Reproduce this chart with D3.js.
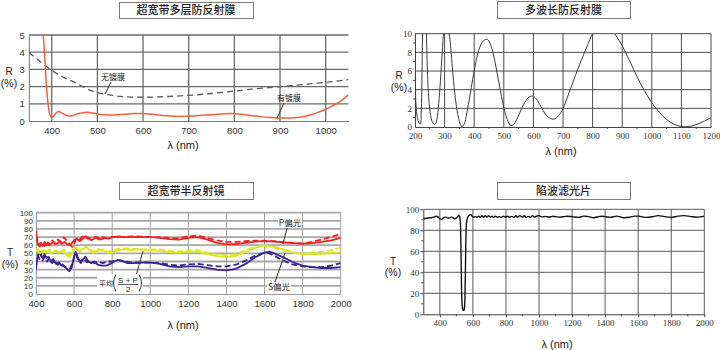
<!DOCTYPE html>
<html><head><meta charset="utf-8">
<script src="https://cdn.jsdelivr.net/npm/d3@7"></script>
<style>
body{margin:0;background:#fff}
svg{display:block}
</style></head><body>
<svg id="c" width="720" height="350"></svg>
<script>
// ---------- 超宽带多层防反射膜 ----------
const arNm        = [381,385,388,392,396,400,405,410,415,420,428,436,444,452,462,472,482,492,502,515,530,545,560,580,600,615,630,650,670,690,710,730,750,770,790,805,820,840,860,880,895,910,925,940,955,970,985,1000,1015,1030,1050];
const arCoated    = [5.2,3.6,2.2,1.0,0.35,0.2,0.3,0.48,0.55,0.5,0.38,0.3,0.3,0.38,0.45,0.5,0.5,0.45,0.4,0.36,0.35,0.37,0.39,0.43,0.44,0.41,0.36,0.3,0.27,0.27,0.29,0.33,0.37,0.41,0.43,0.42,0.38,0.31,0.24,0.2,0.18,0.17,0.18,0.21,0.28,0.38,0.52,0.68,0.88,1.1,1.52];
const bareNm      = [350,375,400,425,450,475,500,525,550,575,600,650,700,750,800,850,900,950,1000,1050];
const bareR       = [3.98,3.45,2.95,2.55,2.25,1.9,1.65,1.52,1.43,1.39,1.38,1.42,1.49,1.6,1.74,1.88,2.0,2.12,2.25,2.4];

// ---------- 多波长防反射膜 ----------
const mwNm = [200,203,206,210,214,218,221,224,226,230,234,238,242,248,255,262,268,274,280,286,292,297,302,306,312,318,322,330,340,350,358,366,375,390,400,415,430,444,458,470,485,500,512,522,530,540,555,570,585,597,610,625,640,655,670,685,700,715,730,750,770,790,800,820,845,870,885,900,925,950,975,1000,1025,1050,1075,1100,1125,1150,1175,1200];
const mwR  = [6.0,2.6,1.4,0.7,0.4,0.3,1.5,6.5,10.5,13.5,13.0,10.5,6.0,2.5,0.9,0.35,0.3,0.8,2.5,5.0,8.0,10.2,11.0,11.2,10.6,9.4,8.0,5.0,2.2,0.6,0.05,0.3,1.5,4.2,6.0,8.2,9.2,9.4,8.6,7.0,4.5,2.1,0.8,0.2,0.2,0.6,1.6,2.6,3.2,3.3,3.0,2.2,1.4,0.95,0.85,1.2,2.0,3.2,4.5,6.2,7.8,9.3,10.0,10.9,11.2,10.2,9.5,8.7,7.1,5.4,3.9,2.6,1.6,0.8,0.3,0.05,0.05,0.25,0.6,1.0];

// ---------- 超宽带半反射镜 ----------
const pSolidNm = [400,404,408,415,425,435,445,455,465,475,490,505,520,535,550,565,580,590,600,615,630,645,660,675,690,705,720,740,760,780,800,830,860,900,950,1000,1050,1100,1150,1200,1250,1300,1350,1400,1450,1500,1550,1600,1650,1700,1750,1800,1850,1900,1950,2000];
const pSolid   = [78,70,63,60,63,59,64,60,63,61,64,61,64,62,64,61,60,63,66,68,65,68,71,69,66,68,70,67,69,68,70,70.5,70,70,70,70,69,67.5,67,69,70,67,63,61,61.5,63,64.5,65,64.5,63.5,62.5,62,62.5,64,66,69];
const pDashNm  = [400,408,420,432,445,458,470,485,500,515,530,545,560,575,590,600,612,625,640,655,670,690,710,730,750,775,800,830,860,900,950,1000,1050,1100,1150,1200,1250,1300,1350,1400,1450,1500,1550,1600,1650,1700,1750,1800,1850,1900,1950,2000];
const pDash    = [72,62,58,63,59,65,60,66,62,67,64,70,66,62,58,62,68,66,70,72,68,69,70,67,70,68,70,71,70,71,70.5,70,70,69,68.5,71,72,69,66,64,64,65,65.5,65.5,65,63.5,63,62,64,67,70,74];
const avgSolidNm = [400,410,420,435,450,465,480,500,520,540,560,575,590,600,615,630,650,665,680,700,720,745,770,800,830,860,900,950,1000,1050,1100,1150,1200,1250,1300,1350,1400,1450,1500,1550,1600,1650,1700,1750,1800,1850,1900,1950,2000];
const avgSolid   = [56,52,50,53,51,54,50,53,51,53,48,45,50,57,55,52,56,58,54,50,53,55,51,51,54,55,54,55,54,53,51.5,51,52,52,49,46.5,45.5,47,52,57,59.5,58,55,51,49,49,49.5,50.5,51];
const avgDashNm  = [400,412,425,440,455,470,488,505,525,545,560,575,590,605,620,640,660,680,700,725,750,775,800,830,860,900,950,1000,1050,1100,1150,1200,1250,1300,1350,1400,1450,1500,1550,1600,1650,1700,1750,1800,1850,1900,1950,2000];
const avgDash    = [52,55,50,54,50,55,52,54,50,55,52,47,52,60,55,53,58,56,52,56,53,52,53,56,56,56,55,55,55,53,52.5,53.5,54,51,48.5,47.5,49,54,58,59,57,53.5,51,50,50.5,52,54,57];
const sSolidNm = [400,405,412,420,428,436,445,455,465,478,490,505,520,535,550,565,575,588,600,608,618,630,645,660,675,690,705,725,745,770,790,810,830,850,880,920,960,1000,1050,1100,1150,1200,1250,1300,1350,1400,1450,1500,1550,1600,1625,1650,1700,1750,1800,1850,1900,1950,2000];
const sSolid   = [30,42,48,52,46,44,49,44,46,40,43,37,39,35,34,30,28,33,45,52,46,40,42,46,40,38,40,36,35,35,37,40,42,41,38,38,38.5,38.5,37,34,33,34,34,32,30,29,31,37,45,51,52,50,45,39,35,33,32,32,33];
const sDashNm  = [400,410,418,426,435,445,458,470,485,500,515,530,548,562,578,592,604,612,620,635,650,668,685,705,725,750,775,800,830,860,900,950,1000,1050,1100,1150,1200,1250,1300,1350,1400,1450,1500,1550,1600,1625,1650,1700,1750,1800,1850,1900,1950,2000];
const sDash    = [36,48,43,50,41,46,40,44,38,42,36,39,34,32,31,38,50,48,42,38,44,39,41,38,40,38,40,40,42,40,39,39,38.5,38,36,35,36.5,37,35.5,34,34,36,41,47,51,50,47,41,36,34,33,33,35,38];

// ---------- 陷波滤光片 ----------
const notchNm = [300,310,320,335,350,365,380,390,400,410,420,432,445,455,468,480,490,500,508,515,520,524,527,530,533,537,541,546,550,553,556,559,562,566,572,580,588,595,605,615,625,635,645,655,665,675,685,695,705,715,725,735,748,760,772,785,798,810,822,835,848,860,872,885,898,910,922,935,948,960,972,985,1000,1020,1040,1060,1080,1100,1130,1160,1200,1240,1270,1300,1330,1370,1400,1430,1470,1510,1550,1580,1610,1650,1690,1720,1760,1800,1840,1880,1920,1960,2000];
const notchT  = [91.5,91,91.5,92,92,92.5,93.5,92.5,91,90.5,91.5,92.5,92,91.5,92.5,92,91,91.5,93,94.5,93,88,70,40,15,6,4,4,8,25,55,80,88,91,93.5,94.5,95,93.5,92.5,93,92.5,93.5,92.3,93.8,92.3,94,92.5,94,92.5,93.5,92.3,93.5,92.5,93,92.3,93.5,92.5,93.5,92.5,93.3,92.3,93.8,92.5,94,92.5,93.8,92.5,93.3,92.3,94,92.5,93.5,93.8,92.8,93.3,92.5,93.3,93,92.5,93.3,93,92.3,93.5,93,92,93.3,93,92.3,93.5,92,92.5,93.5,93.3,92.3,93,94,93,92.3,93.5,94,93,92.5,93.5];

// ---------- tick labels ----------
const p1XTicks = [400,500,600,700,800,900,1000];
const p1YTicks = [0,1,2,3,4,5];
const p2XTicks = [200,300,400,500,600,700,800,900,1000,1100,1200];
const p2YTicks = [0,2,4,6,8,10];
const p3XTicks = [400,600,800,1000,1200,1400,1600,1800,2000];
const p3YTicks = [0,10,20,30,40,50,60,70,80,90,100];
const p4XTicks = [400,600,800,1000,1200,1400,1600,1800,2000];
const p4YTicks = [0,20,40,60,80,100];

const svg = d3.select("#c");
const SANS = "'Liberation Sans', Arial, sans-serif";
const SERIF = "'Liberation Serif', 'DejaVu Serif', serif";
const CJK = "'Noto Sans CJK SC', sans-serif";
const fmt = d3.format("d");
let clipId = 0;

function titleBox(x0, x1, y0, y1, text) {
  svg.append("rect").attr("x", x0 + 0.5).attr("y", y0 + 0.5)
    .attr("width", x1 - x0).attr("height", y1 - y0)
    .attr("fill", "#fff").attr("stroke", "#7a7a7a").attr("stroke-width", 1);
  svg.append("text").attr("x", (x0 + x1) / 2).attr("y", (y0 + y1) / 2 + 4)
    .attr("text-anchor", "middle").attr("font-family", CJK)
    .attr("font-size", 11).attr("font-weight", 500).attr("fill", "#222").text(text);
}

function axisTitle(x, y1, y2, letter, xl, yl) {
  svg.append("text").attr("x", x).attr("y", y1).attr("text-anchor", "middle")
    .attr("font-family", SANS).attr("font-size", 10).attr("fill", "#222").text(letter);
  svg.append("text").attr("x", x).attr("y", y2).attr("text-anchor", "middle")
    .attr("font-family", SANS).attr("font-size", 10.5).attr("fill", "#222").text("(%)");
  svg.append("text").attr("x", xl).attr("y", yl).attr("text-anchor", "middle")
    .attr("font-family", SANS).attr("font-size", 11).attr("fill", "#222").text("λ (nm)");
}

function panel(c) {
  const x = d3.scaleLinear().domain(c.xDomain).range(c.xRange);
  const y = d3.scaleLinear().domain(c.yDomain).range(c.yRange);
  const g = svg.append("g");
  const w = c.xRange[1] - c.xRange[0];
  const h = c.yRange[0] - c.yRange[1];

  // grid
  g.append("g").selectAll("line").data(c.hGrid).join("line")
    .attr("x1", c.xRange[0]).attr("x2", c.xRange[1])
    .attr("y1", d => y(d)).attr("y2", d => y(d))
    .attr("stroke", c.hColor).attr("stroke-width", c.hWidth);
  g.append("g").selectAll("line").data(c.vGrid).join("line")
    .attr("x1", d => x(d)).attr("x2", d => x(d))
    .attr("y1", c.yRange[0]).attr("y2", c.yRange[1])
    .attr("stroke", c.vColor).attr("stroke-width", c.vWidth);

  // axes with labels
  const ax = g.append("g").attr("transform", `translate(0,${c.yRange[0]})`)
    .call(d3.axisBottom(x).tickValues(c.xTicks).tickFormat(fmt).tickSize(c.tickLen).tickSizeOuter(0).tickPadding(c.xPad));
  const ay = g.append("g").attr("transform", `translate(${c.xRange[0]},0)`)
    .call(d3.axisLeft(y).tickValues(c.yTicks).tickFormat(fmt).tickSize(c.tickLen).tickSizeOuter(0).tickPadding(c.yPad));
  [[ax, c.fontSize], [ay, c.yFontSize || c.fontSize]].forEach(([a, fs]) => {
    a.select(".domain").attr("stroke", c.axisColor).attr("stroke-width", c.axisWidth);
    a.selectAll(".tick line").attr("stroke", c.axisColor);
    a.selectAll(".tick text").attr("font-family", c.font).attr("font-size", fs).attr("fill", "#333");
  });
  if (c.minorX) g.append("g").selectAll("line").data(c.minorX).join("line")
    .attr("x1", d => x(d)).attr("x2", d => x(d)).attr("y1", c.yRange[0]).attr("y2", c.yRange[0] + 2)
    .attr("stroke", c.axisColor);
  if (c.minorY) g.append("g").selectAll("line").data(c.minorY).join("line")
    .attr("y1", d => y(d)).attr("y2", d => y(d)).attr("x1", c.xRange[0]).attr("x2", c.xRange[0] - 2)
    .attr("stroke", c.axisColor);

  // clip for curves
  const id = "clip" + (clipId++);
  svg.append("clipPath").attr("id", id).append("rect")
    .attr("x", c.xRange[0]).attr("y", c.yRange[1]).attr("width", w).attr("height", h);
  const cg = g.append("g").attr("clip-path", `url(#${id})`);
  c.series.forEach(s => {
    const pts = s.nm.map((d, i) => [d, s.v[i]]);
    cg.append("path").datum(pts)
      .attr("d", d3.line().x(d => x(d[0])).y(d => y(d[1])).curve(s.curve || d3.curveMonotoneX))
      .attr("fill", "none").attr("stroke", s.color).attr("stroke-width", s.width)
      .attr("stroke-dasharray", s.dash || null).attr("stroke-linejoin", "round");
  });
  return {x, y};
}

// ---- panel 1 ----
titleBox(119, 253, 2, 18, "超宽带多层防反射膜");
panel({
  xDomain: [350, 1050], xRange: [28.9, 348.5], yDomain: [0, 5], yRange: [121, 35],
  hGrid: [1, 2, 3, 4, 5], vGrid: [400, 500, 600, 700, 800, 900, 1000],
  hColor: "#6a6a6a", hWidth: 1.3, vColor: "#6a6a6a", vWidth: 1.3,
  xTicks: p1XTicks, yTicks: p1YTicks, tickLen: 0, xPad: 6, yPad: 4,
  axisColor: "#777", axisWidth: 1, font: SANS, fontSize: 9.5,
  series: [
    {nm: bareNm, v: bareR, color: "#5a5a5a", width: 1.3, dash: "6,4"},
    {nm: arNm, v: arCoated, color: "#f2603c", width: 1.5, curve: d3.curveCatmullRom}
  ]
});
axisTitle(9, 75, 87, "R", 183, 149);

// ---- panel 2 ----
titleBox(497, 630, 1, 18, "多波长防反射膜");
panel({
  xDomain: [200, 1200], xRange: [415, 711], yDomain: [0, 10], yRange: [127, 33.7],
  hGrid: [2, 4, 6, 8, 10], vGrid: [300, 400, 500, 600, 700, 800, 900, 1000, 1100, 1200],
  hColor: "#4a4a4a", hWidth: 1, vColor: "#4a4a4a", vWidth: 1,
  xTicks: p2XTicks, yTicks: p2YTicks, tickLen: 0, xPad: 6, yPad: 3,
  axisColor: "#444", axisWidth: 1, font: SERIF, fontSize: 9,
  minorY: [1, 3, 5, 7, 9], minorX: [250, 350, 450, 550, 650, 750, 850, 950, 1050, 1150],
  series: [
    {nm: mwNm, v: mwR, color: "#3a3a3a", width: 1, curve: d3.curveCatmullRom}
  ]
});
axisTitle(399, 79, 91, "R", 561, 155);

// ---- panel 3 ----
titleBox(119, 253, 182, 199, "超宽带半反射镜");
panel({
  xDomain: [400, 2000], xRange: [36, 340.7], yDomain: [0, 100], yRange: [294, 212.7],
  hGrid: [10, 20, 30, 40, 50, 60, 70, 80, 90, 100], vGrid: [600, 800, 1000, 1200, 1400, 1600, 1800, 2000],
  hColor: "#a8a8a8", hWidth: 1.8, vColor: "#a0a0a0", vWidth: 1,
  xTicks: p3XTicks, yTicks: p3YTicks, tickLen: 0, xPad: 6, yPad: 3,
  axisColor: "#999", axisWidth: 1, font: SANS, fontSize: 9.5, yFontSize: 8,
  series: [
    {nm: sDashNm, v: sDash, color: "#3c2494", width: 1.8, dash: "6,3", curve: d3.curveLinear},
    {nm: sSolidNm, v: sSolid, color: "#3c2494", width: 1.8, curve: d3.curveLinear},
    {nm: avgDashNm, v: avgDash, color: "#dde81e", width: 1.8, dash: "6,3", curve: d3.curveLinear},
    {nm: avgSolidNm, v: avgSolid, color: "#dde81e", width: 1.8, curve: d3.curveLinear},
    {nm: pDashNm, v: pDash, color: "#f51e1e", width: 1.8, dash: "6,3", curve: d3.curveLinear},
    {nm: pSolidNm, v: pSolid, color: "#f51e1e", width: 1.8, curve: d3.curveLinear}
  ]
});
axisTitle(10, 256, 268, "T", 183, 329);

// ---- panel 4 ----
titleBox(497, 630, 182, 199, "陷波滤光片");
panel({
  xDomain: [300, 2000], xRange: [423.3, 704.3], yDomain: [0, 100], yRange: [314.3, 209.3],
  hGrid: [20, 40, 60, 80, 100], vGrid: [400, 600, 800, 1000, 1200, 1400, 1600, 1800, 2000],
  hColor: "#5a5a5a", hWidth: 1, vColor: "#5a5a5a", vWidth: 1,
  xTicks: p4XTicks, yTicks: p4YTicks, tickLen: 3, xPad: 2, yPad: 1,
  axisColor: "#444", axisWidth: 1, font: SERIF, fontSize: 9,
  minorY: [10, 30, 50, 70, 90], minorX: [500, 700, 900, 1100, 1300, 1500, 1700, 1900],
  series: [
    {nm: notchNm, v: notchT, color: "#111", width: 1.4, curve: d3.curveCatmullRom}
  ]
});
axisTitle(393, 265, 276, "T", 557, 348);

// ---- callouts ----
function note(x, y, text, size, lx1, ly1, lx2, ly2) {
  svg.append("line").attr("x1", lx1).attr("y1", ly1).attr("x2", lx2).attr("y2", ly2)
    .attr("stroke", "#333").attr("stroke-width", 1);
  svg.append("text").attr("x", x).attr("y", y).attr("text-anchor", "middle")
    .attr("font-family", CJK).attr("font-size", size).attr("fill", "#222").text(text);
}
note(113, 80, "无镀膜", 8, 111, 82, 105, 94);
note(289, 101, "有镀膜", 8, 284, 103, 277, 118);

// P偏光 / S偏光 labels with white backing
function backedNote(x, y, text, w, lx1, ly1, lx2, ly2) {
  svg.append("line").attr("x1", lx1).attr("y1", ly1).attr("x2", lx2).attr("y2", ly2)
    .attr("stroke", "#333").attr("stroke-width", 1);
  svg.append("rect").attr("x", x - w / 2).attr("y", y - 8).attr("width", w).attr("height", 10).attr("fill", "#fff");
  svg.append("text").attr("x", x).attr("y", y).attr("text-anchor", "middle")
    .attr("font-family", CJK).attr("font-size", 8.5).attr("fill", "#222").text(text);
}
backedNote(290, 226, "P偏光", 24, 287, 228, 283, 244);
backedNote(279, 290, "S偏光", 24, 275, 282, 285, 253);

// 平均 (S+P)/2 label
svg.append("line").attr("x1", 136).attr("y1", 276).attr("x2", 143).attr("y2", 251)
  .attr("stroke", "#333").attr("stroke-width", 1);
svg.append("rect").attr("x", 97).attr("y", 274).attr("width", 46).attr("height", 19).attr("fill", "#fff");
svg.append("text").attr("x", 106).attr("y", 286).attr("text-anchor", "middle")
  .attr("font-family", CJK).attr("font-size", 7).attr("fill", "#222").text("平均");
svg.append("path").attr("d", "M116,274.5 Q111,283 116,291.5").attr("fill", "none").attr("stroke", "#333").attr("stroke-width", 1);
svg.append("path").attr("d", "M139,274.5 Q144,283 139,291.5").attr("fill", "none").attr("stroke", "#333").attr("stroke-width", 1);
svg.append("text").attr("x", 128).attr("y", 283).attr("text-anchor", "middle")
  .attr("font-family", SANS).attr("font-size", 8).attr("fill", "#222").text("S + P");
svg.append("line").attr("x1", 118).attr("x2", 138).attr("y1", 284.5).attr("y2", 284.5).attr("stroke", "#333").attr("stroke-width", 0.8);
svg.append("text").attr("x", 128).attr("y", 292).attr("text-anchor", "middle")
  .attr("font-family", SANS).attr("font-size", 8).attr("fill", "#222").text("2");
</script>
</body></html>
